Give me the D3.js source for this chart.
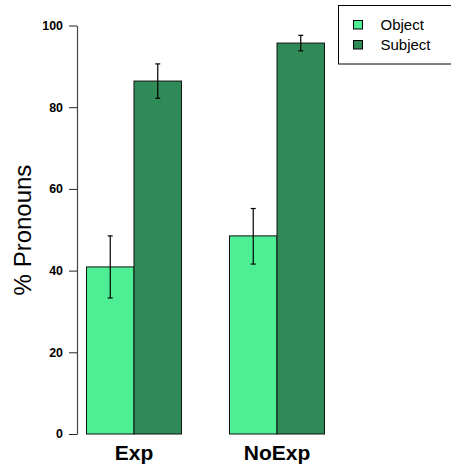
<!DOCTYPE html>
<html><head><meta charset="utf-8">
<script src="https://cdn.jsdelivr.net/npm/d3@7/dist/d3.min.js"></script>
<style>body{margin:0;background:#fff}svg{display:block}text{font-family:"Liberation Sans",Arial,sans-serif}</style>
</head><body>
<script>
const categories = ["Exp", "NoExp"];
const series = ["Object", "Subject"];
const values = [[40.9, 86.4], [48.5, 95.7]];
const errLow = [[33.3, 82.2], [41.6, 93.8]];
const errHigh = [[48.5, 90.6], [55.2, 97.6]];
const yTicks = [0, 20, 40, 60, 80, 100];
const colors = ["#4EEE94", "#2E8B57"];

const W = 451, H = 466;
const svg = d3.select("body").append("svg").attr("width", W).attr("height", H);

const y = d3.scaleLinear().domain([0, 100]).range([434, 25.5]);
const x0 = d3.scaleBand().domain(categories).range([86.5, 324.5]).paddingInner(48/143).paddingOuter(0);
const x1 = d3.scaleBand().domain(series).range([0, x0.bandwidth()]);

const g = svg.append("g");
categories.forEach((c, ci) => {
  series.forEach((s, si) => {
    const bx = x0(c) + x1(s);
    g.append("rect")
      .attr("x", bx).attr("y", y(values[ci][si]))
      .attr("width", x1.bandwidth()).attr("height", y(0) - y(values[ci][si]))
      .attr("fill", colors[si]).attr("stroke", "#111").attr("stroke-width", 1);
  });
});
categories.forEach((c, ci) => {
  series.forEach((s, si) => {
    const cx = x0(c) + x1(s) + x1.bandwidth() / 2;
    const e = g.append("g").attr("stroke", "#000").attr("stroke-width", 1.2);
    e.append("line").attr("x1", cx).attr("x2", cx).attr("y1", y(errLow[ci][si])).attr("y2", y(errHigh[ci][si]));
    e.append("line").attr("x1", cx - 2.5).attr("x2", cx + 2.5).attr("y1", y(errLow[ci][si])).attr("y2", y(errLow[ci][si]));
    e.append("line").attr("x1", cx - 2.5).attr("x2", cx + 2.5).attr("y1", y(errHigh[ci][si])).attr("y2", y(errHigh[ci][si]));
  });
});

// y axis
const ax = svg.append("g").attr("transform", "translate(77,0)")
  .call(d3.axisLeft(y).tickValues(yTicks).tickSize(8).tickSizeOuter(0).tickPadding(6).tickFormat(d3.format("d")));
ax.select(".domain").attr("stroke", "#444").attr("stroke-width", 1.2);
ax.selectAll(".tick line").attr("stroke", "#222").attr("stroke-width", 1);
ax.selectAll(".tick text").attr("font-size", 12.4).attr("font-weight", "bold").attr("fill", "#000")
  .style("font-family", '"Liberation Sans",Arial,sans-serif');

// category labels
svg.selectAll(".cat").data(categories).enter().append("text")
  .attr("x", d => x0(d) + x0.bandwidth() / 2).attr("y", 460)
  .attr("text-anchor", "middle").attr("font-size", 21).attr("font-weight", "bold").text(d => d);

// y label
svg.append("text").attr("transform", "translate(31,230) rotate(-90)")
  .attr("text-anchor", "middle").attr("font-size", 24).text("% Pronouns");

// legend
const lg = svg.append("g");
lg.append("rect").attr("x", 338.5).attr("y", 5.5).attr("width", 120).attr("height", 58.5)
  .attr("fill", "#fff").attr("stroke", "#000").attr("stroke-width", 1);
series.forEach((s, i) => {
  lg.append("rect").attr("x", 353.5).attr("y", 20.5 + i * 20).attr("width", 9).attr("height", 8.5)
    .attr("fill", colors[i]).attr("stroke", "#000").attr("stroke-width", 1);
  lg.append("text").attr("x", 380.5).attr("y", 30 + i * 20).attr("font-size", 15).text(s);
});
</script>
</body></html>
